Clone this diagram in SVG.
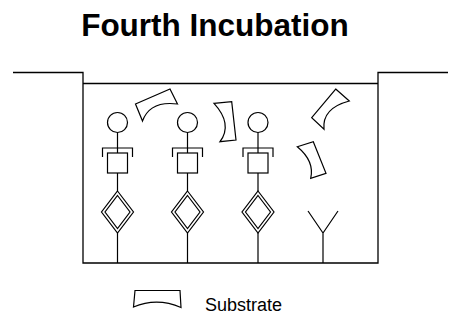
<svg xmlns="http://www.w3.org/2000/svg" width="449" height="320" viewBox="0 0 449 320">
<style>
.ln{fill:none;stroke:#000;stroke-width:1.2;stroke-linejoin:miter}
.fr{fill:none;stroke:#000;stroke-width:1.3}
.t{font-family:"Liberation Sans",Arial,sans-serif;fill:#000}
</style>
<defs>
<g id="ab">
<circle cx="0" cy="122.5" r="10" class="ln"/>
<path class="ln" d="M0,132.5V153M-15,157V148H15V157"/>
<rect x="-10" y="153" width="20" height="20" class="ln"/>
<path class="ln" d="M0,173V191M0,233V263"/>
<path class="ln" d="M0,191L16,212L0,233L-16,212Z"/>
<path class="ln" d="M0,195.5L12.5,212L0,228.5L-12.5,212Z"/>
</g>
</defs>
<text class="t" x="215" y="36" font-size="31.5" font-weight="bold" text-anchor="middle">Fourth Incubation</text>
<g id="well">
<path class="fr" d="M13,72.5H83V263H378V72.5H448"/>
<path class="fr" d="M83,83.5H378"/>
</g>
<g id="antibody1" transform="translate(117.5,0)"><use href="#ab"/></g>
<g id="antibody2" transform="translate(187.5,0)"><use href="#ab"/></g>
<g id="antibody3" transform="translate(258,0)"><use href="#ab"/></g>
<g id="capture">
<path class="ln" d="M308,211L323,233L338,211M323,233V263"/>
</g>
<g id="substrate1"><path class="ln" d="M135.5,104L170,89L177.5,104Q150,100.5 142.5,121Z"/></g>
<g id="substrate2"><path class="ln" d="M214,103.3L231.7,101.7L236,140L220,141.7Q233,124 214,103.3Z"/></g>
<g id="substrate3"><path class="ln" d="M335.7,89L349.3,101Q321.9,108.2 324,129.3L311.7,117.7Z"/></g>
<g id="substrate4"><path class="ln" d="M297.3,146.7L313.3,141.7L326,173.3L310.7,178.3Q314.7,161 297.3,146.7Z"/></g>
<g id="legend">
<path class="ln" d="M135,290.5L180,290.5L181,307.5Q157,297 133.5,307Z"/>
<text class="t" x="205" y="311" font-size="18">Substrate</text>
</g>
<g id="connectors"/>
</svg>
